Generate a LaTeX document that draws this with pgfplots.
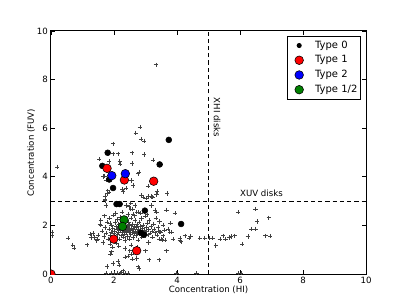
\documentclass[border=0pt]{standalone}
\usepackage{pgfplots}
\pgfplotsset{compat=1.18}
\usepackage{fontspec}
\setmainfont{DejaVu Sans}
\usetikzlibrary{calc}
\definecolor{mplred}{RGB}{255,0,0}
\definecolor{mplblue}{RGB}{0,0,255}
\definecolor{mplgreen}{RGB}{0,128,0}
\begin{document}
\fontsize{6.2}{7.4}\selectfont
\begin{tikzpicture}
\begin{axis}[
  scale only axis,
  width=226.8pt, height=175pt,
  xmin=0, xmax=10, ymin=0, ymax=10,
  xtick={0,2,4,6,8,10}, ytick={0,2,4,6,8,10},
  tick align=inside, tick pos=both,
  major tick length=3pt,
  every tick/.style={black, line width=0.5pt},
  axis line style={line width=0.7pt},
  /pgf/number format/assume math mode=true,
  ticklabel style={font=\fontsize{6.2}{7.4}\selectfont},
  label style={font=\fontsize{6.2}{7.4}\selectfont},
  xlabel={Concentration (HI)},
  ylabel={Concentration (FUV)},
  xlabel style={yshift=3pt},
  ylabel style={yshift=-3pt},
  legend style={at={(0.985,0.981)}, anchor=north east, draw=black, line width=0.6pt,
    font=\fontsize{7.2}{8.6}\selectfont, row sep=1.3pt, inner xsep=1pt, inner ysep=2.2pt,
    nodes={inner xsep=1.5pt, inner ysep=1.2pt, text height=5.3pt, text depth=1.6pt}},
  legend cell align=left,
  legend image code/.code={\path[draw=none,fill=none] (-7.5pt,0pt) -- (10pt,0pt); \draw[#1] plot coordinates {(0pt,0pt)};},
  clip=true,
  clip marker paths=true,
]
\coordinate (ll) at (rel axis cs:0,0);
\coordinate (ur) at (rel axis cs:1,1);
\draw[black, dash pattern=on 3pt off 2.2pt, line width=0.6pt] (axis cs:5,0) -- (axis cs:5,10);
\draw[black, dash pattern=on 3pt off 2.2pt, line width=0.6pt] (axis cs:0,3) -- (axis cs:10,3);
\node[rotate=-90, font=\fontsize{6.2}{7.4}\selectfont] at (axis cs:5.27,6.44) {XHI disks};
\node[font=\fontsize{6.2}{7.4}\selectfont] at (axis cs:6.68,3.32) {XUV disks};
\addplot[only marks, mark=+, mark size=1.55pt, black!75, line width=0.4pt, forget plot] coordinates {
(3.33,8.61)(2.82,6.04)(2.69,5.81)(2.86,5.55)(2.95,5.48)(1.97,5.36)(1.97,4.95)(2.13,4.95)(2.57,4.99)(2.96,4.92)
(1.53,4.72)(3.24,4.70)(1.85,4.63)(2.18,4.63)(0.20,4.41)(1.70,4.04)(2.58,4.55)(2.80,4.20)(2.76,4.13)(2.19,4.53)
(1.66,4.01)(1.74,3.87)(2.56,3.85)(2.61,3.64)(3.08,3.62)(1.80,3.43)(1.85,3.38)(2.27,3.50)(2.29,3.40)(2.38,3.54)
(1.78,3.32)(1.71,3.09)(1.71,3.19)(2.87,3.23)(2.93,3.16)(3.03,3.12)(3.19,3.19)(3.22,3.16)(3.35,3.27)(3.37,3.40)
(3.69,3.32)(3.08,3.19)
(1.71,3.02)(1.74,2.82)(2.40,2.82)(2.48,2.77)(2.53,2.68)(2.53,2.91)(2.66,2.82)(2.59,2.68)(2.77,2.54)(3.19,2.82)
(3.30,2.64)(3.67,2.64)(3.93,2.50)(2.72,2.54)(2.82,2.50)(2.61,2.47)(3.35,2.54)(3.79,2.09)(1.55,2.06)(1.87,2.09)
(1.58,2.02)(1.24,1.65)(1.29,1.51)(1.34,1.67)(1.45,1.37)(1.39,1.51)(1.48,1.44)(1.50,1.61)(0.55,1.48)(0.69,1.20)
(0.73,1.06)(1.15,1.21)(0.03,1.72)(0.03,1.58)(3.40,1.78)(3.56,1.58)(3.51,1.44)(3.43,1.44)(3.83,1.72)(3.72,1.85)
(3.77,1.72)(3.45,1.74)(3.53,1.41)(3.63,1.41)(3.88,1.44)(4.09,1.48)(4.09,1.37)(4.12,1.33)(4.25,1.58)(4.38,1.48)
(4.43,1.54)(4.72,1.48)(4.88,1.48)(5.04,1.48)(5.13,1.48)(5.23,1.17)(5.36,1.44)(5.46,1.58)(5.54,1.44)(5.65,1.51)
(5.71,1.54)(5.83,1.58)(5.94,2.54)(6.49,2.68)(6.55,2.16)(6.91,2.32)(6.36,1.85)(6.49,1.85)(6.25,1.55)(6.81,1.58)
(6.96,1.57)(6.07,1.24)(3.67,0.96)(3.43,0.59)(3.12,0.59)(2.77,0.30)(2.59,0.62)(2.56,0.82)(2.35,0.71)(2.13,0.52)
(2.17,0.38)(1.78,0.31)(1.97,0.44)(1.87,1.24)(1.92,0.92)(1.89,0.82)(2.50,0.96)(2.45,0.75)(3.00,0.96)(2.72,0.64)
(2.79,0.23)(2.29,0.14)(2.24,0.07)
(1.75,0.03)(1.90,0.03)(2.00,0.03)(2.10,0.05)(2.20,0.03)(2.35,0.04)(2.45,0.03)(3.98,0.03)(4.62,0.03)(5.94,0.03)(6.04,0.03)
(1.62,1.78)(1.68,1.55)(1.72,1.92)(1.75,1.68)(1.78,2.15)(1.82,1.45)(1.84,1.85)(1.86,2.30)(1.88,1.60)(1.90,1.72)
(1.92,2.02)(1.94,1.35)(1.96,1.88)(1.98,2.42)(2.00,1.66)(2.02,1.78)(2.04,2.12)(2.05,1.52)(2.07,1.95)(2.08,1.28)
(2.10,1.84)(2.11,2.25)(2.12,1.62)(2.14,1.73)(2.15,2.05)(2.17,1.90)(2.18,1.45)(2.19,2.35)(2.21,1.80)(2.22,1.58)
(2.24,1.98)(2.25,1.70)(2.26,2.18)(2.28,1.85)(2.30,1.52)(2.31,1.76)(2.32,2.08)(2.34,1.64)(2.35,1.92)(2.36,1.38)
(2.38,1.82)(2.39,2.22)(2.40,1.70)(2.42,1.96)(2.43,1.55)(2.45,1.86)(2.46,2.12)(2.48,1.74)(2.49,1.44)(2.50,2.00)
(2.52,1.80)(2.53,1.62)(2.55,2.30)(2.56,1.90)(2.58,1.70)(2.59,2.06)(2.60,1.50)(2.62,1.84)(2.63,1.96)(2.65,1.66)
(2.66,2.20)(2.68,1.78)(2.70,1.58)(2.71,1.92)(2.73,2.04)(2.74,1.72)(2.76,1.40)(2.78,1.86)(2.80,2.14)(2.81,1.64)
(2.83,1.96)(2.85,1.76)(2.87,2.28)(2.88,1.52)(2.90,1.88)(2.92,2.02)(2.94,1.70)(2.96,1.80)(2.98,2.38)(3.00,1.58)
(3.02,1.92)(3.04,1.74)(3.06,2.10)(3.08,1.62)(3.10,1.84)(3.12,2.20)(3.15,1.68)(3.17,1.96)(3.20,1.78)(3.22,1.52)
(3.25,2.06)(3.28,1.86)(3.30,1.70)(3.33,2.30)(3.36,1.60)(3.40,1.94)(3.44,2.16)(3.48,1.72)(3.55,2.02)(3.60,1.80)
(2.05,2.50)(2.25,2.55)(2.45,2.45)(2.65,2.40)(2.85,2.52)(3.05,2.44)(1.70,2.40)(1.58,2.22)(2.15,1.15)(2.55,1.20)
(2.35,1.05)(2.75,1.10)(1.95,1.12)(3.10,1.30)(1.65,1.30)
};
\addplot[only marks, mark=*, mark size=2.1pt, mark options={fill=black, draw=black},
  legend image post style={mark size=1.5pt}] coordinates {
(1.80,4.99)(3.74,5.52)(3.45,4.51)(1.63,4.45)(1.85,3.89)(1.97,3.54)(2.08,2.88)(2.18,2.88)(2.98,2.61)(4.13,2.06)(2.85,1.70)(2.95,1.62)
};
\addlegendentry{Type 0}
\addplot[only marks, mark=*, mark size=3.1pt, mark options={fill=mplred, draw=black, line width=0.4pt}] coordinates {
(1.78,4.35)(2.33,3.87)(3.26,3.82)(1.99,1.44)(2.72,0.96)(0,0)
};
\addlegendentry{Type 1}
\addplot[only marks, mark=*, mark size=3.1pt, mark options={fill=mplblue, draw=black, line width=0.4pt}] coordinates {
(1.93,4.05)(2.36,4.13)
};
\addlegendentry{Type 2}
\addplot[only marks, mark=*, mark size=3.1pt, mark options={fill=mplgreen, draw=black, line width=0.4pt}] coordinates {
(2.32,2.23)(2.27,1.96)
};
\addlegendentry{Type 1/2}
\end{axis}
\pgfresetboundingbox
\path[use as bounding box] ($(ll)+(-36.7pt,-22.3pt)$) rectangle ($(ur)+(29.5pt,22.3pt)$);
\end{tikzpicture}
\end{document}
